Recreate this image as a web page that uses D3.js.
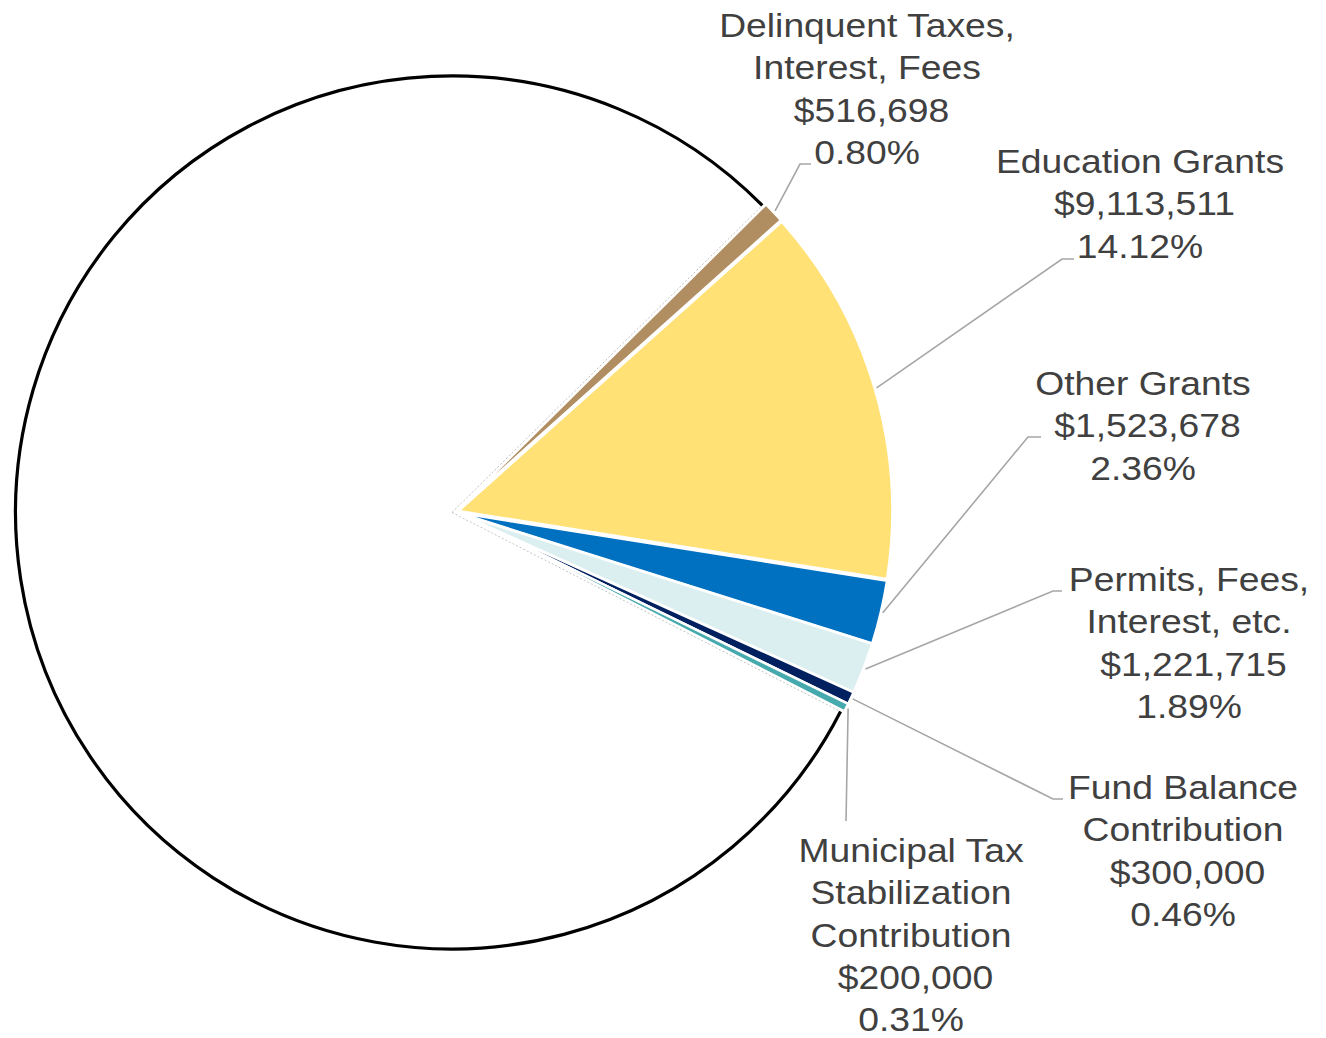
<!DOCTYPE html>
<html>
<head>
<meta charset="utf-8">
<script src="https://cdn.jsdelivr.net/npm/d3@7"></script>
<style>
  body { margin: 0; background: #fff; }
  text { font-family: "Liberation Sans", Arial, sans-serif; }
</style>
</head>
<body>
<div class="plot"></div>
<script>
// chart data
const categories = ["Delinquent Taxes, Interest, Fees", "Education Grants", "Other Grants",
  "Permits, Fees, Interest, etc.", "Fund Balance Contribution",
  "Municipal Tax Stabilization Contribution", "Tax Levy"];
const values = [516698, 9113511, 1523678, 1221715, 300000, 200000, 51665000];
const nameLines = [["Delinquent Taxes,", "Interest, Fees"], ["Education Grants"], ["Other Grants"],
  ["Permits, Fees,", "Interest, etc."], ["Fund Balance", "Contribution"],
  ["Municipal Tax", "Stabilization", "Contribution"], []];
const valueLabels = ["$516,698", "$9,113,511", "$1,523,678", "$1,221,715", "$300,000", "$200,000", ""];
const pctLabels = ["0.80%", "14.12%", "2.36%", "1.89%", "0.46%", "0.31%", ""];

// styles
const colors = ["#b08e62", "#ffe175", "#0070c0", "#dbeef0", "#002060", "#46a9ae", "#ffffff"];

// label placement: text centre, first baseline, elbow of leader, end of leader
const labelLayout = [
  {tx: 867, ty: 37, ex: 800, ey: 164, hx: 811},
  {tx: 1140, ty: 173, ex: 1062, ey: 259, hx: 1074},
  {tx: 1143, ty: 395, ex: 1028, ey: 437, hx: 1041},
  {tx: 1189, ty: 591, ex: 1053, ey: 591, hx: 1062},
  {tx: 1183, ty: 799, ex: 1053, ey: 799, hx: 1063},
  {tx: 911, ty: 862, ex: 846, ey: 821, hx: 846},
  null
];

const width = 1326, height = 1038;
const cx = 455, cy = 512;
const r = 434, rBig = 436.5;
const lineH = 42.3;
const stretchX = 1.13;
const startDeg = 45.3;

const svg = d3.select(".plot")
  .append("svg")
    .attr("width", width)
    .attr("height", height);

const pie = d3.pie()
  .sort(null)
  .value(d => d)
  .startAngle(startDeg * Math.PI / 180)
  .endAngle(startDeg * Math.PI / 180 + 2 * Math.PI);

const arcs = pie(values);
const lastIdx = values.length - 1;

// offset each slice a little along its bisector
const explode = (d, i) => {
  const off = i === lastIdx ? 3 : 3.5;
  const mid = (d.startAngle + d.endAngle) / 2;
  return [cx + Math.sin(mid) * off, cy - Math.cos(mid) * off];
};

const arc = d3.arc().innerRadius(0).outerRadius(r);

// big unlabeled slice
const big = arcs[lastIdx];
const [bx, by] = explode(big, lastIdx);
const gBig = svg.append("g").attr("transform", `translate(${bx},${by})`);
gBig.append("path")
  .attr("d", d3.arc().innerRadius(0).outerRadius(rBig)(big))
  .attr("fill", colors[lastIdx]);

[big.startAngle, big.endAngle].forEach(a => {
  gBig.append("line")
    .attr("x1", 0).attr("y1", 0)
    .attr("x2", Math.sin(a) * rBig).attr("y2", -Math.cos(a) * rBig)
    .attr("stroke", "#bfbfbf")
    .attr("stroke-width", 1)
    .attr("stroke-dasharray", "2,2");
});

const outline = d3.path();
outline.moveTo(Math.sin(big.startAngle) * rBig, -Math.cos(big.startAngle) * rBig);
outline.arc(0, 0, rBig, big.startAngle - Math.PI / 2, big.endAngle - Math.PI / 2);
gBig.append("path")
  .attr("d", outline.toString())
  .attr("fill", "none")
  .attr("stroke", "#000")
  .attr("stroke-width", 3.2);

// small coloured slices
const small = arcs.slice(0, lastIdx);
svg.selectAll("path.slice")
  .data(small)
  .enter()
  .append("path")
    .attr("class", "slice")
    .attr("transform", (d, i) => `translate(${explode(d, i)})`)
    .attr("d", arc)
    .attr("fill", (d, i) => colors[i])
    .attr("stroke", "#fff")
    .attr("stroke-width", 2.5);

// leader lines
small.forEach((d, i) => {
  const L = labelLayout[i];
  const [ox, oy] = explode(d, i);
  const mid = (d.startAngle + d.endAngle) / 2;
  const sx = ox + Math.sin(mid) * (r + 2);
  const sy = oy - Math.cos(mid) * (r + 2);
  svg.append("polyline")
    .attr("points", `${sx},${sy} ${L.ex},${L.ey} ${L.hx},${L.ey}`)
    .attr("fill", "none")
    .attr("stroke", "#a6a6a6")
    .attr("stroke-width", 1.6);
});

// data labels (text is a bit wider than plain Arial in the original)
small.forEach((d, i) => {
  const L = labelLayout[i];
  const lines = nameLines[i].map(t => ({t, dx: 0}))
    .concat([{t: valueLabels[i], dx: 4}, {t: pctLabels[i], dx: 0}]);
  const txt = svg.append("text")
    .attr("text-anchor", "middle")
    .attr("fill", "#404040")
    .attr("transform", `translate(${L.tx},0) scale(${stretchX},1)`)
    .style("font-size", "33px");
  lines.forEach((ln, k) => {
    txt.append("tspan")
      .attr("x", ln.dx)
      .attr("y", L.ty + k * lineH)
      .text(ln.t);
  });
});
</script>
</body>
</html>
